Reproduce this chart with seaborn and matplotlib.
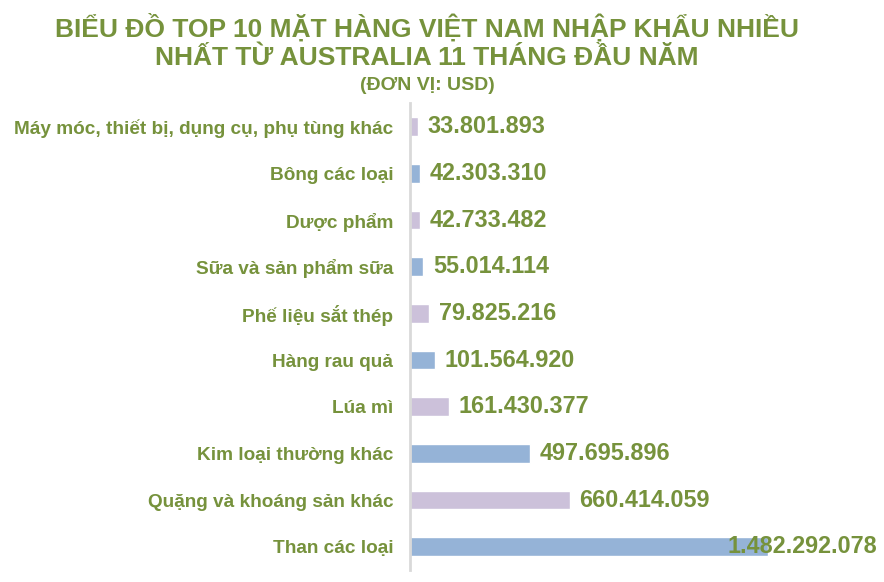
import matplotlib
matplotlib.use("Agg")
import matplotlib.pyplot as plt
import seaborn as sns
import pandas as pd

# data, top to bottom
categories = [
    "Máy móc, thiết bị, dụng cụ, phụ tùng khác",
    "Bông các loại",
    "Dược phẩm",
    "Sữa và sản phẩm sữa",
    "Phế liệu sắt thép",
    "Hàng rau quả",
    "Lúa mì",
    "Kim loại thường khác",
    "Quặng và khoáng sản khác",
    "Than các loại",
]
values = [
    33801893, 42303310, 42733482, 55014114, 79825216,
    101564920, 161430377, 497695896, 660414059, 1482292078,
]
value_labels = [
    "33.801.893", "42.303.310", "42.733.482", "55.014.114", "79.825.216",
    "101.564.920", "161.430.377", "497.695.896", "660.414.059", "1.482.292.078",
]

GREEN = "#76923C"
PURPLE = "#CCC1DA"
BLUE = "#95B3D7"
bar_colors = [PURPLE if i % 2 == 0 else BLUE for i in range(len(categories))]

sns.set_theme(style="white")
plt.rcParams["font.family"] = ["Liberation Sans", "DejaVu Sans"]

df = pd.DataFrame({"category": categories, "value": values})

fig = plt.figure(figsize=(8.84, 5.82), dpi=100)
ax = fig.add_axes([410 / 884, 1 - 570 / 582, 1 - 410 / 884 - 4 / 884, (570 - 103.5) / 582])

sns.barplot(data=df, y="category", x="value", hue="category",
            palette=dict(zip(categories, bar_colors)), legend=False,
            width=0.4, ax=ax, saturation=1)

ax.set_xlim(0, 1482292078 * 470 / 358)
ax.set_xlabel("")
ax.set_ylabel("")
ax.set_xticks([])
for s in ["top", "right", "bottom"]:
    ax.spines[s].set_visible(False)
ax.spines["left"].set_color("#D9D9D9")
ax.spines["left"].set_linewidth(2)
ax.tick_params(axis="y", length=0, pad=12)
for lbl in ax.get_yticklabels():
    lbl.set_fontsize(13.7)
    lbl.set_fontweight("bold")
    lbl.set_color(GREEN)

for i, (v, txt) in enumerate(zip(values, value_labels)):
    if i == len(values) - 1:
        ax.annotate(txt, xy=(1.0, i), xycoords=("axes fraction", "data"),
                    xytext=(-2, 0), textcoords="offset points",
                    ha="right", va="center", fontsize=16.8, fontweight="bold", color=GREEN)
    else:
        ax.annotate(txt, xy=(v, i), xytext=(7, 0), textcoords="offset points",
                    ha="left", va="center", fontsize=16.8, fontweight="bold", color=GREEN)

fig.text(0.483, 1 - 27 / 582, "BIỂU ĐỒ TOP 10 MẶT HÀNG VIỆT NAM NHẬP KHẨU NHIỀU",
         ha="center", va="center", fontsize=19, fontweight="bold", color=GREEN)
fig.text(0.483, 1 - 58 / 582, "NHẤT TỪ AUSTRALIA 11 THÁNG ĐẦU NĂM",
         ha="center", va="center", fontsize=19, fontweight="bold", color=GREEN)
fig.text(0.483, 1 - 85 / 582, "(ĐƠN VỊ: USD)",
         ha="center", va="center", fontsize=14, fontweight="bold", color=GREEN)

fig.savefig("out.png", dpi=100)
